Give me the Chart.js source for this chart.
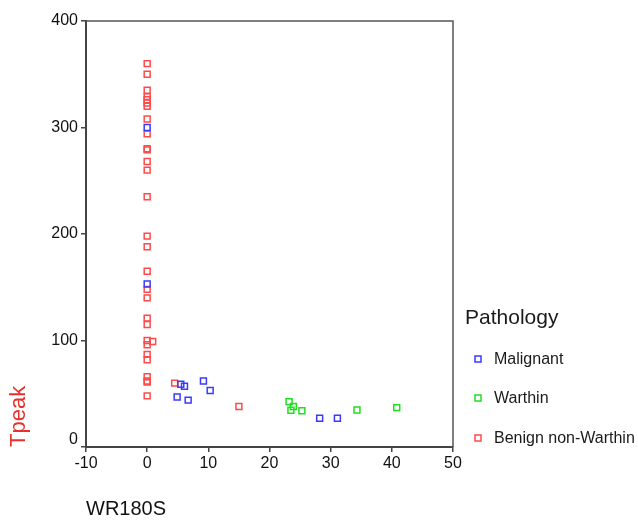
<!DOCTYPE html>
<html>
<head>
<meta charset="utf-8">
<script src="https://cdn.jsdelivr.net/npm/chart.js@4.4.1/dist/chart.umd.min.js"></script>
<style>
html,body{margin:0;padding:0;background:#fff;}
#wrap{width:638px;height:521px;position:relative;}
</style>
</head>
<body>
<div id="wrap"><canvas id="c" width="638" height="521"></canvas></div>
<script>
// ---- data ----
const seriesNames = ["Malignant", "Warthin", "Benign non-Warthin"];
const seriesColors = ["#3a3aff", "#1ee01e", "#ff4a4a"];

const malignantX = [0, 0, 5.5, 6.1, 4.9, 6.7, 9.2, 10.3, 28.2, 31.1];
const malignantY = [300, 153, 59, 57, 47, 44, 62, 53, 27, 27];

const warthinX = [23.2, 23.9, 23.5, 25.3, 34.3, 40.8];
const warthinY = [42.5, 38, 34.5, 34, 34.7, 37];

const benignX = [0, 0, 0, 0, 0, 0, 0, 0, 0, 0, 0, 0, 0, 0, 0, 0, 0, 0, 0, 0, 0, 0, 0, 0, 0, 0, 0, 0, 0, 0.9, 4.5, 15.0];
const benignY = [360, 350, 335, 329, 326, 323, 320, 308, 294, 280, 279, 268, 260, 235, 198, 188, 165, 148, 140, 121, 115, 100, 96, 87, 82, 66, 62, 48, 61, 99, 60, 38];

const xTicks = [-10, 0, 10, 20, 30, 40, 50];
const yTicks = [0, 100, 200, 300, 400];
const xTitle = "WR180S";
const yTitle = "Tpeak";
const legendTitle = "Pathology";

// ---- build ----
function pts(xs, ys){ return xs.map((x,i)=>({x:x, y:ys[i]})); }
const FONT = "'Liberation Sans', Arial, Helvetica, sans-serif";

const datasets = [
  {label: seriesNames[0], data: pts(malignantX, malignantY)},
  {label: seriesNames[1], data: pts(warthinX, warthinY)},
  {label: seriesNames[2], data: pts(benignX, benignY)}
].map((d,i)=>Object.assign(d, {
  pointStyle: 'rect',
  radius: 4.2,
  hoverRadius: 4.2,
  borderWidth: 1.5,
  borderColor: seriesColors[i],
  backgroundColor: 'rgba(255,255,255,0)',
  showLine: false
}));

const framePlugin = {
  id: 'frame',
  afterDatasetsDraw(chart){
    const {ctx, chartArea: a} = chart;
    ctx.save();
    ctx.strokeStyle = '#555';
    ctx.lineWidth = 1.5;
    ctx.beginPath();
    ctx.moveTo(a.left, a.top); ctx.lineTo(a.right, a.top); ctx.lineTo(a.right, a.bottom);
    ctx.stroke();
    // the lowest y tick label sits slightly above its tick, as in the reference
    const ys = chart.scales.y;
    ctx.fillStyle = '#111';
    ctx.font = '16px ' + FONT;
    ctx.textAlign = 'right';
    ctx.textBaseline = 'middle';
    ctx.fillText(String(yTicks[0]), ys.right - 5 - 3, ys.getPixelForValue(yTicks[0]) - 7);
    ctx.restore();
  }
};

const legendPlugin = {
  id: 'customLegend',
  afterDraw(chart){
    const ctx = chart.ctx;
    ctx.save();
    ctx.fillStyle = '#1a1a1a';
    ctx.textBaseline = 'middle';
    ctx.textAlign = 'left';
    ctx.font = '21px ' + FONT;
    ctx.fillText(legendTitle, 465, 318);
    ctx.font = '16px ' + FONT;
    const ys = [359, 398, 438];
    seriesNames.forEach((n,i)=>{
      ctx.strokeStyle = seriesColors[i];
      ctx.lineWidth = 1.5;
      ctx.strokeRect(475, ys[i]-3, 6, 6);
      ctx.fillStyle = '#1a1a1a';
      ctx.fillText(n, 494, ys[i]+1);
    });
    ctx.restore();
  }
};

new Chart(document.getElementById('c'), {
  type: 'scatter',
  data: {datasets},
  options: {
    responsive: false,
    animation: false,
    events: [],
    layout: {padding: {top: 21, right: 185, left: 0, bottom: 0}},
    plugins: {legend: {display: false}, tooltip: {enabled: false}},
    scales: {
      x: {
        type: 'linear', min: xTicks[0], max: xTicks[xTicks.length-1],
        afterBuildTicks(s){ s.ticks = xTicks.map(v=>({value:v})); },
        afterFit(s){ s.height = 74; },
        grid: {display: true, drawOnChartArea: false, drawTicks: true, tickLength: 5, color: '#444', lineWidth: 1.5},
        border: {display: true, color: '#444', width: 2},
        ticks: {color: '#111', font: {family: FONT, size: 16}, padding: 2, maxRotation: 0},
        title: {display: true, text: xTitle, align: 'start', color: '#111', font: {family: FONT, size: 20}, padding: {top: 0, bottom: 0}}
      },
      y: {
        type: 'linear', min: yTicks[0], max: yTicks[yTicks.length-1],
        afterBuildTicks(s){ s.ticks = yTicks.map(v=>({value:v})); },
        afterFit(s){ s.width = 86; },
        grid: {display: true, drawOnChartArea: false, drawTicks: true, tickLength: 5, color: '#444', lineWidth: 1.5},
        border: {display: true, color: '#444', width: 2},
        ticks: {color: '#111', font: {family: FONT, size: 16}, padding: 3,
                callback: (v)=> v === yTicks[0] ? '' : String(v)},
        title: {display: true, text: yTitle, align: 'start', color: '#e8302c', font: {family: FONT, size: 22}, padding: {top: 6, bottom: 0}}
      }
    }
  },
  plugins: [framePlugin, legendPlugin]
});
</script>
</body>
</html>
